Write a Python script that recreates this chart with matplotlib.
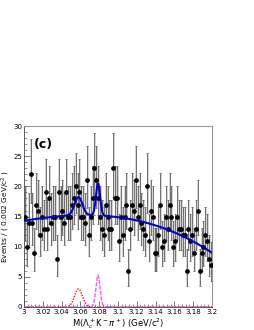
import numpy as np
import matplotlib
matplotlib.use("Agg")
import matplotlib.pyplot as plt

# ---- data ----
x_lo, x_hi, bin_w = 3.0, 3.2, 0.002
counts = [15, 10, 14, 22, 14, 9, 17, 16, 12, 15,
          13, 19, 13, 18, 14, 15, 15, 8, 19, 15,
          16, 14, 19, 15, 15, 17, 18, 20, 17, 19,
          15, 15, 14, 21, 12, 15, 18, 23, 21, 18,
          15, 13, 12, 17, 15, 13, 13, 23, 18, 18,
          11, 15, 12, 15, 17, 6, 13, 17, 16, 21,
          15, 17, 14, 13, 12, 20, 11, 16, 15, 9,
          9, 12, 17, 10, 11, 15, 13, 17, 15, 10,
          11, 15, 13, 13, 12, 12, 6, 13, 11, 12,
          9, 13, 16, 6, 9, 10, 12, 11, 8, 7]
# fit model parameters (background cubic in (m-3.0), two gaussian peaks)
bkg_coef = [14.3, 25.83, -135.0, -633.3]
peak1 = dict(mean=3.058, sigma=0.0042, height=3.0)
peak2 = dict(mean=3.0788, sigma=0.0022, height=5.3)
xticks = [3.0, 3.02, 3.04, 3.06, 3.08, 3.1, 3.12, 3.14, 3.16, 3.18, 3.2]
xticklabels = ["3", "3.02", "3.04", "3.06", "3.08", "3.1", "3.12", "3.14", "3.16", "3.18", "3.2"]
yticks = [0, 5, 10, 15, 20, 25, 30]

counts = np.array(counts, dtype=float)
centers = x_lo + bin_w * (np.arange(len(counts)) + 0.5)
err_lo = np.sqrt(counts)
err_hi = np.sqrt(counts + 1) + 1

m = np.linspace(x_lo, x_hi, 1000)
t = m - x_lo
bkg = sum(c * t**i for i, c in enumerate(bkg_coef))
g1 = peak1["height"] * np.exp(-0.5 * ((m - peak1["mean"]) / peak1["sigma"])**2)
g2 = peak2["height"] * np.exp(-0.5 * ((m - peak2["mean"]) / peak2["sigma"])**2)
total = bkg + g1 + g2

fig = plt.figure(figsize=(2.55, 3.3), dpi=100)
ax = fig.add_axes([0.094, 0.0697, 0.737, 0.548])

# light grey shadow bars
ax.errorbar(centers + 0.0007, counts, yerr=[err_lo, err_hi], fmt='none',
            ecolor='#d2d2d2', elinewidth=1.3, capsize=0, zorder=1)
ax.errorbar(centers, counts, yerr=[err_lo, err_hi], fmt='o', ms=2.4,
            color='black', ecolor='#555555', elinewidth=0.55, capsize=0.8,
            capthick=0.5, zorder=3)

# background dashed
mask = (m > 3.045) & (m < 3.09)
ax.plot(m[mask], bkg[mask], color='#777777', lw=0.8, ls=(0, (2, 1.5)), zorder=2)
ax.plot(m, g1, color='red', lw=1.0, ls=(0, (1, 1)), zorder=4)
ax.plot(m, g2, color='#ff55ff', lw=1.0, ls=(0, (3, 1)), zorder=4)
ax.plot(m, total, color='#0000cc', lw=1.5, zorder=5)

ax.set_xlim(x_lo, x_hi)
ax.set_ylim(0, 30)
ax.set_xticks(xticks)
ax.set_xticklabels(xticklabels)
ax.set_yticks(yticks)
ax.set_xticks(np.arange(3.0, 3.2001, 0.004), minor=True)
ax.set_yticks(np.arange(0, 30.01, 1), minor=True)
ax.tick_params(which='both', direction='in', top=False, right=False,
               labelsize=5, pad=1.2, color='#444444')
ax.tick_params(which='major', length=4, width=0.5)
ax.tick_params(which='minor', length=2, width=0.4)
for s in ['left', 'bottom']:
    ax.spines[s].set_color('#444444')
    ax.spines[s].set_linewidth(0.6)
for s in ['top', 'right']:
    ax.spines[s].set_color('#999999')
    ax.spines[s].set_linewidth(0.8)

ax.set_xlabel(r"M($\Lambda_c^+$K$^-\pi^+$) (GeV/c$^2$)", fontsize=6, labelpad=1)
ax.set_ylabel(r"Events / ( 0.002 GeV/c$^2$ )", fontsize=5.3)
ax.yaxis.set_label_coords(-0.066, 0.5)
ax.text(3.011, 26.3, "(c)", fontsize=9, fontweight='bold')

fig.savefig("out.png", dpi=100)
